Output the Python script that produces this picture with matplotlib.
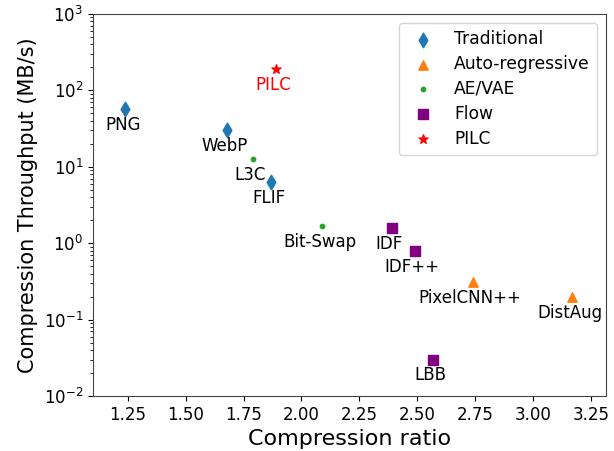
import numpy as np
import matplotlib
matplotlib.use('Agg')
import matplotlib.pyplot as plt

# methods grouped by category: (name, compression ratio, throughput MB/s)
trad_names = ['PNG', 'WebP', 'FLIF']
trad_x = [1.24, 1.68, 1.87]
trad_y = [57, 30, 6.3]

ar_names = ['PixelCNN++', 'DistAug']
ar_x = [2.74, 3.17]
ar_y = [0.31, 0.2]

vae_names = ['L3C', 'Bit-Swap']
vae_x = [1.79, 2.09]
vae_y = [12.5, 1.7]

flow_names = ['IDF', 'IDF++', 'LBB']
flow_x = [2.39, 2.49, 2.57]
flow_y = [1.6, 0.78, 0.03]

pilc_names = ['PILC']
pilc_x = [1.89]
pilc_y = [190]

fig = plt.figure(figsize=(6.14, 4.51), dpi=100)
ax = fig.add_subplot(111)
fig.subplots_adjust(left=0.1515, right=0.9870, top=0.969, bottom=0.122)

ax.scatter(trad_x, trad_y, marker='d', s=55, color='tab:blue', label='Traditional')
ax.scatter(ar_x, ar_y, marker='^', s=45, color='tab:orange', label='Auto-regressive')
ax.scatter(vae_x, vae_y, marker='.', s=40, color='tab:green', label='AE/VAE')
ax.scatter(flow_x, flow_y, marker='s', s=52, color='purple', label='Flow')
ax.scatter(pilc_x, pilc_y, marker='*', s=45, color='red', label='PILC')

def label(names, xs, ys, c='black'):
    for n, x, y in zip(names, xs, ys):
        ax.annotate(n, (x, y), xytext=(-2, -11.5), textcoords='offset points',
                    ha='center', va='center', fontsize=12, color=c)

label(trad_names, trad_x, trad_y)
label(ar_names, ar_x, ar_y)
label(vae_names, vae_x, vae_y)
label(flow_names, flow_x, flow_y)
label(pilc_names, pilc_x, pilc_y, c='red')

ax.set_yscale('log')
ax.set_ylim(1e-2, 1e3)
ax.set_xlim(1.1, 3.315)
ax.set_xticks([1.25, 1.5, 1.75, 2.0, 2.25, 2.5, 2.75, 3.0, 3.25])
ax.set_xticklabels(['1.25', '1.50', '1.75', '2.00', '2.25', '2.50', '2.75', '3.00', '3.25'])
ax.tick_params(labelsize=12)
for s in ax.spines.values():
    s.set_color('#444444')
ax.set_xlabel('Compression ratio', fontsize=16)
ax.set_ylabel('Compression Throughput (MB/s)', fontsize=15)
ax.legend(loc='upper right', fontsize=12.3, borderpad=0.45, labelspacing=0.4)

plt.savefig('out.png', dpi=100)
